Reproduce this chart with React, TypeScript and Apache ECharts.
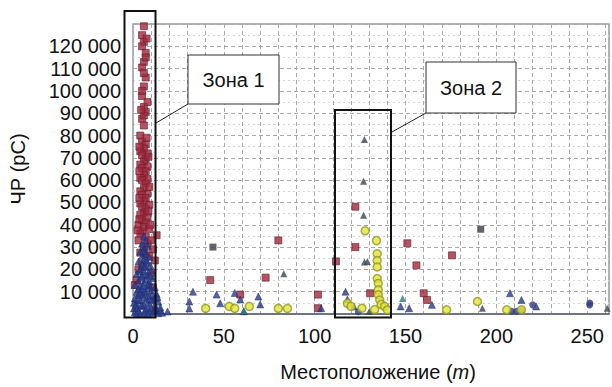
import React, { useEffect, useRef } from "react";
import * as echarts from "echarts";

// ---- data (x: position in m, y: PD in pC) ----
const xTickLabels = [0, 50, 100, 150, 200, 250];

const redSquares: [number, number][] = [
  [6, 129000], [6, 122000], [5, 120000], [7, 117000], [6, 113000], [5, 110500], [7, 106000], [6, 102000],
  [5, 97700], [6, 92800], [7, 90600], [5, 87500], [6, 84500], [4, 80000], [5, 77300], [7, 76000],
  [6, 74200], [4, 73000], [8, 72000], [5, 71100], [7, 69500], [6, 68400], [4, 67000], [8, 66000],
  [5, 65400], [7, 64000], [6, 62300], [4, 61000], [8, 60500], [5, 60000], [7, 58500], [6, 56500],
  [4, 55000], [8, 54000], [5, 53400], [7, 52000], [6, 50500], [4, 49500], [9, 49000], [5, 48000],
  [7, 47000], [6, 45500], [4, 44500], [8, 43500], [5, 42000], [7, 41000], [3, 40000], [6, 39000],
  [9, 38000], [5, 37000], [4, 36000], [13, 35300], [7, 34500], [3, 33000], [8, 31500], [6, 30000],
  [11, 29000], [4, 27500], [9, 26000], [12, 24000], [5, 22500], [3, 20000], [10, 18500], [2, 15300],
  [1, 13000], [11, 12000], [7, 115000], [5, 125000], [6, 108000], [8, 95000], [6, 89000], [5, 100000],
  [7.5, 79000], [3.5, 75000], [8.5, 70500], [3.5, 64000], [9, 57000], [3.5, 52000], [8.5, 46000],
  [3.5, 42500], [9.5, 40000], [10, 33000], [6.5, 27000], [2.5, 37500], [7.5, 123500], [4.5, 91500],
  [42.5, 15200], [80, 33000], [73, 16300], [59, 8700], [111.7, 23600], [122.4, 48100], [122.4, 30000],
  [130.5, 9300], [101.8, 8700], [101.8, 2600], [151, 31700], [156, 21800], [175.6, 26300], [160, 9300],
  [161.8, 6300],
];

const blueTriangles: [number, number][] = [
  [6, 35000], [7, 33000], [5, 31500], [8, 30500], [6, 29000], [4, 28000], [7, 27000], [5, 26000],
  [9, 25500], [6, 24500], [3, 23500], [8, 23000], [5, 22000], [7, 21000], [4, 20000], [10, 19500],
  [6, 19000], [2, 18000], [8, 17500], [5, 17000], [11, 16000], [7, 15500], [3, 15000], [9, 14500],
  [6, 14000], [1, 13000], [4, 12500], [12, 12000], [8, 11500], [5, 11000], [10, 10500], [2, 10000],
  [7, 9500], [13, 9000], [3, 8500], [9, 8000], [6, 7500], [1, 7000], [11, 6500], [4, 6000],
  [14, 5500], [8, 5000], [2, 4500], [12, 4000], [5, 3500], [10, 3000], [0.5, 2500], [7, 2000],
  [15, 1800], [3, 1500], [13, 1200], [9, 1000], [1, 800], [6, 600], [11, 500], [4, 300],
  [14, 300], [2, 200], [8, 200], [16, 600], [0.5, 5000], [15, 3000], [6, 4200], [9, 12800],
  [7, 17800], [3, 11200], [12, 7200], [5, 8800], [10, 6000], [2, 2800],
  [4.5, 16200], [6.5, 21500], [8.5, 13500], [3.5, 9500], [7.5, 6800], [10.5, 8500], [4.5, 3900],
  [8.5, 2600], [11.5, 1900], [2.5, 6400], [6.5, 10200], [9.5, 17000], [5.5, 12600], [12.5, 2600],
  [13.5, 7600], [1.5, 3800], [7.5, 24000], [5.5, 28200], [3.5, 19200], [9.5, 21800],
  [33, 10000], [31, 5600], [46, 8700], [48, 4800], [56, 9400], [59, 6500], [69, 7800], [70, 4300],
  [61, 1200], [117, 10000], [118, 6500], [121.5, 3400], [147.3, 3400], [164.5, 4100], [152, 2600],
  [207.5, 9300], [213.8, 6300], [221.9, 3400], [103.6, 2600], [19, 1100], [31, 2500],
];

const blueDots: [number, number][] = [
  [208.4, 1200], [211, 1200], [220, 4100], [251.4, 4100], [251.4, 4900], [124, 1000], [214, 1500],
];

const darkSquares: [number, number][] = [
  [44, 30000], [191.4, 38000],
];

const darkTriangles: [number, number][] = [
  [83, 18000], [127.4, 78200], [126.9, 59500], [126.9, 44300], [127.4, 23300], [129, 23500],
  [130, 1100], [192.3, 2600], [261, 2600],
];

const tealTriangles: [number, number][] = [
  [148.4, 7000], [61, 1500],
];

const yellowCircles: [number, number][] = [
  [40, 2500], [53, 3400], [56, 2500], [64, 3400], [80, 2500], [85, 2500], [127.8, 37300], [134, 32900],
  [134.4, 27000], [134.4, 24000], [134.4, 21100], [134.4, 15900], [135, 13700], [135, 10800], [135, 8600],
  [135.8, 6300], [136.6, 4300], [138.5, 3400], [118, 4800], [120, 3400], [126, 2600], [172.6, 1900],
  [189.6, 5600], [205.7, 1900], [213.8, 1900], [133, 2000], [140, 1800],
];

const FONT = "Liberation Sans, Arial, Helvetica, sans-serif";

export default function App() {
  const ref = useRef<HTMLDivElement>(null);
  useEffect(() => {
    const chart = echarts.init(ref.current!, null, { renderer: "svg" });
    chart.setOption({
      animation: false,
      backgroundColor: "#fff",
      grid: {
        left: 124,
        right: 0,
        top: 24,
        bottom: 69.4,
        show: true,
        borderColor: "#9a9a9a",
        borderWidth: 1.5,
      },
      xAxis: {
        type: "value",
        min: 0,
        max: 262,
        interval: 10,
        name: "Местоположение ({i|m})",
        nameLocation: "middle",
        nameGap: 48,
        nameTextStyle: {
          fontFamily: FONT,
          fontSize: 20,
          color: "#111",
          padding: [0, 0, 0, 14],
          rich: { i: { fontStyle: "italic", fontFamily: FONT, fontSize: 20, color: "#111" } },
        },
        axisLine: { show: true, lineStyle: { color: "#5a6070", width: 1.5 } },
        axisTick: { show: false },
        axisLabel: {
          fontFamily: FONT,
          fontSize: 20,
          color: "#111",
          margin: 12,
          formatter: (v: number) => (xTickLabels.includes(v) ? String(v) : ""),
        },
        splitLine: { show: true, lineStyle: { color: "#aaa", type: [4, 3], width: 1 } },
      },
      yAxis: {
        type: "value",
        min: 0,
        max: 130000,
        interval: 10000,
        name: "ЧР (pC)",
        nameLocation: "middle",
        nameGap: 105,
        nameTextStyle: { fontFamily: FONT, fontSize: 20, color: "#111" },
        axisLine: { show: false },
        axisTick: { show: false },
        axisLabel: {
          fontFamily: FONT,
          fontSize: 20,
          color: "#111",
          margin: 12,
          showMinLabel: false,
          showMaxLabel: false,
          formatter: (v: number) => (v === 0 || v === 130000 ? "" : `${v / 1000} 000`),
        },
        splitLine: { show: true, lineStyle: { color: "#aaa", type: [4, 3], width: 1 } },
        minorTick: { show: false, splitNumber: 2 },
        minorSplitLine: { show: true, lineStyle: { color: "#d6d6d6", type: [2, 3], width: 1 } },
      },
      series: [
        {
          type: "scatter",
          data: redSquares,
          symbol: "rect",
          symbolSize: 7,
          itemStyle: { color: "#a3283c", borderColor: "#6a1f2a", borderWidth: 0.8 },
        },
        {
          type: "scatter",
          data: blueTriangles,
          symbol: "triangle",
          symbolSize: 7,
          itemStyle: { color: "#283c8f", borderColor: "#1c2a66", borderWidth: 0.6 },
        },
        {
          type: "scatter",
          data: blueDots,
          symbol: "circle",
          symbolSize: 7,
          itemStyle: { color: "#2f3d86" },
        },
        {
          type: "scatter",
          data: darkSquares,
          symbol: "rect",
          symbolSize: 7,
          itemStyle: { color: "#3b3f48" },
        },
        {
          type: "scatter",
          data: darkTriangles,
          symbol: "triangle",
          symbolSize: 7,
          itemStyle: { color: "#3a4652" },
        },
        {
          type: "scatter",
          data: tealTriangles,
          symbol: "triangle",
          symbolSize: 7,
          itemStyle: { color: "#2a7a80" },
        },
        {
          type: "scatter",
          data: yellowCircles,
          symbol: "circle",
          symbolSize: 8,
          itemStyle: { color: "#e6e23a", borderColor: "#8d9a22", borderWidth: 1.5 },
        },
      ],
      graphic: [
        { type: "rect", z: 100, shape: { x: 124.5, y: 11, width: 31, height: 306.6 }, style: { fill: "none", stroke: "#111", lineWidth: 2 } },
        { type: "rect", z: 100, shape: { x: 335, y: 110, width: 56, height: 207.6 }, style: { fill: "none", stroke: "#111", lineWidth: 2 } },
        { type: "line", z: 100, shape: { x1: 188, y1: 104, x2: 156, y2: 123 }, style: { stroke: "#222", lineWidth: 1 } },
        { type: "line", z: 100, shape: { x1: 426, y1: 113, x2: 392, y2: 132 }, style: { stroke: "#222", lineWidth: 1 } },
        { type: "rect", z: 100, shape: { x: 188, y: 55, width: 91, height: 49 }, style: { fill: "#fff", stroke: "#333", lineWidth: 1 } },
        { type: "rect", z: 100, shape: { x: 426, y: 62, width: 90, height: 51 }, style: { fill: "#fff", stroke: "#333", lineWidth: 1 } },
        { type: "text", z: 101, x: 233.5, y: 80, style: { text: "Зона 1", fontFamily: FONT, fontSize: 20, fill: "#111", align: "center", verticalAlign: "middle" } },
        { type: "text", z: 101, x: 471, y: 88, style: { text: "Зона 2", fontFamily: FONT, fontSize: 20, fill: "#111", align: "center", verticalAlign: "middle" } },
      ],
    });
    return () => chart.dispose();
  }, []);
  return (
    <div
      ref={ref}
      style={{ position: "fixed", left: 0, top: 0, width: 612, height: 387, background: "#fff" }}
    />
  );
}
